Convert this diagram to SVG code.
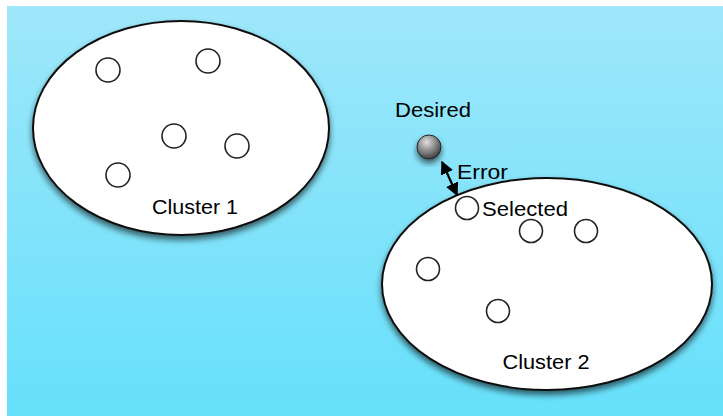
<svg xmlns="http://www.w3.org/2000/svg" width="723" height="416" viewBox="0 0 723 416">
<defs>
<linearGradient id="bg" x1="0" y1="0" x2="0" y2="1">
<stop offset="0" stop-color="#9fe7fa"/>
<stop offset="1" stop-color="#66e0fb"/>
</linearGradient>
<radialGradient id="ball" cx="0.4" cy="0.3" r="0.7">
<stop offset="0" stop-color="#e0e0e0"/>
<stop offset="0.6" stop-color="#808080"/>
<stop offset="1" stop-color="#404040"/>
</radialGradient>
<filter id="sh" x="-20%" y="-20%" width="140%" height="150%">
<feGaussianBlur in="SourceAlpha" stdDeviation="3"/>
<feOffset dx="0" dy="4" result="b"/>
<feComponentTransfer><feFuncA type="linear" slope="0.6"/></feComponentTransfer>
<feMerge><feMergeNode/><feMergeNode in="SourceGraphic"/></feMerge>
</filter>
<marker id="ah" viewBox="0 0 10 10" refX="9" refY="5" markerWidth="6" markerHeight="6" orient="auto-start-reverse">
<path d="M0,0 L10,5 L0,10 z" fill="#000"/>
</marker>
</defs>
<style>
.cl{fill:#fff;stroke:#111;stroke-width:2}
.pt{fill:#fff;stroke:#222;stroke-width:1.6}
text{font-family:"Liberation Sans",Arial,sans-serif;font-size:21px;fill:#000}
</style>
<rect x="0" y="0" width="723" height="416" fill="#fff"/>
<rect x="7" y="6" width="716" height="410" fill="url(#bg)"/>
<g id="cluster1">
<ellipse class="cl" cx="181" cy="128" rx="148" ry="107" filter="url(#sh)"/>
<circle class="pt" cx="108" cy="70" r="12"/>
<circle class="pt" cx="208" cy="61" r="12"/>
<circle class="pt" cx="174" cy="136" r="12"/>
<circle class="pt" cx="237" cy="146" r="12"/>
<circle class="pt" cx="118" cy="175" r="12"/>
<text x="195" y="214" text-anchor="middle" textLength="86" lengthAdjust="spacingAndGlyphs">Cluster 1</text>
</g>
<g id="cluster2">
<ellipse class="cl" cx="547" cy="284" rx="165" ry="106" filter="url(#sh)"/>
<circle class="pt" cx="467" cy="208" r="11.5"/>
<circle class="pt" cx="531" cy="231" r="11.5"/>
<circle class="pt" cx="586" cy="231" r="11.5"/>
<circle class="pt" cx="428" cy="269" r="11.5"/>
<circle class="pt" cx="498" cy="311" r="11.5"/>
<text x="546" y="369" text-anchor="middle" textLength="87" lengthAdjust="spacingAndGlyphs">Cluster 2</text>
</g>
<g id="selected">
<text x="482" y="216" textLength="86" lengthAdjust="spacingAndGlyphs">Selected</text>
</g>
<g id="desired">
<circle cx="429" cy="147" r="12" fill="url(#ball)" stroke="#222" stroke-width="1" filter="url(#sh)"/>
<text x="395" y="117" textLength="76" lengthAdjust="spacingAndGlyphs">Desired</text>
</g>
<g id="connectors">
<line x1="442" y1="162" x2="457" y2="195" stroke="#000" stroke-width="2.2" marker-start="url(#ah)" marker-end="url(#ah)"/>
<text x="457" y="179" textLength="51" lengthAdjust="spacingAndGlyphs">Error</text>
</g>
</svg>
